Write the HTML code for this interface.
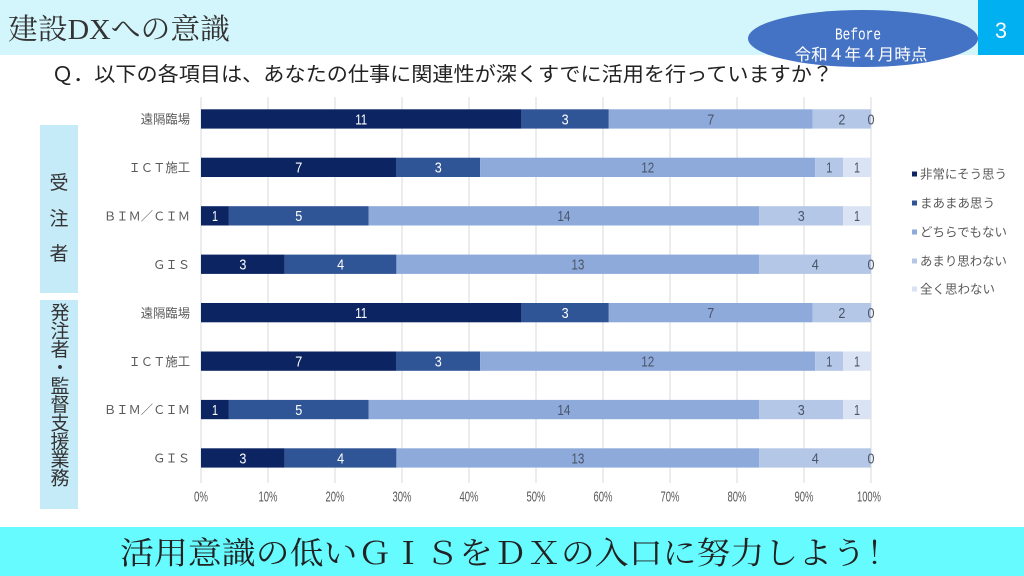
<!DOCTYPE html>
<html><head><meta charset="utf-8"><style>
html,body{margin:0;padding:0;background:#fff;}
svg{display:block;}
</style></head><body>
<svg xmlns="http://www.w3.org/2000/svg" width="1024" height="576" viewBox="0 0 1024 576">
<rect x="0" y="0" width="1024" height="576" fill="#ffffff"/>
<!-- header -->
<rect x="0" y="0" width="1024" height="55" fill="#d3f6fc"/>
<rect x="978" y="0" width="46" height="55" fill="#00b0f0"/>
<text x="1001" y="38" font-family="Liberation Sans Narrow, Liberation Sans, sans-serif" font-size="22" fill="#ffffff" text-anchor="middle" textLength="12" lengthAdjust="spacingAndGlyphs">3</text>
<text x="8" y="39" font-family="Liberation Serif, Noto Serif CJK SC, serif" font-size="29" fill="#333333" textLength="222" lengthAdjust="spacingAndGlyphs">建設DXへの意識</text>
<ellipse cx="863" cy="38.5" rx="115" ry="28.5" fill="#4472c4"/>
<text x="858" y="39.5" font-family="Liberation Mono, monospace" font-size="16.5" fill="#ffffff" text-anchor="middle" textLength="46" lengthAdjust="spacingAndGlyphs">Before</text>
<text x="861" y="60" font-family="Liberation Sans, Noto Sans CJK JP, sans-serif" font-size="16" fill="#ffffff" text-anchor="middle" textLength="133" lengthAdjust="spacingAndGlyphs">令和４年４月時点</text>
<!-- question -->
<text x="52" y="81" font-family="Liberation Sans, Noto Sans CJK JP, sans-serif" font-size="20" fill="#222222" textLength="781" lengthAdjust="spacingAndGlyphs">Ｑ．以下の各項目は、あなたの仕事に関連性が深くすでに活用を行っていますか？</text>
<!-- side boxes -->
<rect x="40" y="125" width="38" height="168" fill="#c5eaf8"/>
<rect x="40" y="300" width="38" height="209" fill="#c5eaf8"/>
<g font-family="Liberation Sans, Noto Sans CJK JP, sans-serif" font-size="19" fill="#333333" text-anchor="middle">
<text x="59" y="189">受</text>
<text x="59" y="225">注</text>
<text x="59" y="260">者</text>
<text x="60" y="319">発</text>
<text x="60" y="337.4">注</text>
<text x="60" y="355.8">者</text>
<text x="60" y="374.2">・</text>
<text x="60" y="392.6">監</text>
<text x="60" y="411">督</text>
<text x="60" y="429.4">支</text>
<text x="60" y="447.8">援</text>
<text x="60" y="466.2">業</text>
<text x="60" y="484.6">務</text>
</g>
<!-- gridlines -->
<g stroke="#d9d9d9" stroke-width="1">
<line x1="201" y1="97" x2="201" y2="483"/>
<line x1="268" y1="97" x2="268" y2="483"/>
<line x1="335" y1="97" x2="335" y2="483"/>
<line x1="402" y1="97" x2="402" y2="483"/>
<line x1="469" y1="97" x2="469" y2="483"/>
<line x1="536" y1="97" x2="536" y2="483"/>
<line x1="603" y1="97" x2="603" y2="483"/>
<line x1="670" y1="97" x2="670" y2="483"/>
<line x1="737" y1="97" x2="737" y2="483"/>
<line x1="804" y1="97" x2="804" y2="483"/>
<line x1="871" y1="97" x2="871" y2="483"/>
</g>
<!-- axis labels -->
<g font-family="Liberation Sans Narrow, Liberation Sans, sans-serif" font-size="15" fill="#595959" text-anchor="middle">
<text x="201" y="501.5" textLength="14" lengthAdjust="spacingAndGlyphs">0%</text>
<text x="268" y="501.5" textLength="19" lengthAdjust="spacingAndGlyphs">10%</text>
<text x="335" y="501.5" textLength="19" lengthAdjust="spacingAndGlyphs">20%</text>
<text x="402" y="501.5" textLength="19" lengthAdjust="spacingAndGlyphs">30%</text>
<text x="469" y="501.5" textLength="19" lengthAdjust="spacingAndGlyphs">40%</text>
<text x="536" y="501.5" textLength="19" lengthAdjust="spacingAndGlyphs">50%</text>
<text x="603" y="501.5" textLength="19" lengthAdjust="spacingAndGlyphs">60%</text>
<text x="670" y="501.5" textLength="19" lengthAdjust="spacingAndGlyphs">70%</text>
<text x="737" y="501.5" textLength="19" lengthAdjust="spacingAndGlyphs">80%</text>
<text x="804" y="501.5" textLength="19" lengthAdjust="spacingAndGlyphs">90%</text>
<text x="869" y="501.5" textLength="24" lengthAdjust="spacingAndGlyphs">100%</text>
</g>
<!-- category labels -->
<g font-family="Liberation Sans, Noto Sans CJK JP, sans-serif" font-size="12.3" fill="#595959" text-anchor="end">
<text x="190" y="123.6">遠隔臨場</text>
<text x="190" y="172.1">ＩＣＴ施工</text>
<text x="190" y="220.5">ＢＩＭ／ＣＩＭ</text>
<text x="190" y="268.9">ＧＩＳ</text>
<text x="190" y="317.4">遠隔臨場</text>
<text x="190" y="365.8">ＩＣＴ施工</text>
<text x="190" y="414.2">ＢＩＭ／ＣＩＭ</text>
<text x="190" y="462.6">ＧＩＳ</text>
</g>
<!-- bars -->
<defs>
<g id="rowA">
<rect x="201" y="0" width="320.4" height="19.3" fill="#0c2562"/>
<rect x="521.4" y="0" width="87.4" height="19.3" fill="#2f5597"/>
<rect x="608.8" y="0" width="203.9" height="19.3" fill="#8eaadb"/>
<rect x="812.7" y="0" width="58.3" height="19.3" fill="#b4c7e7"/>
<g font-family="Liberation Sans Narrow, Liberation Sans, sans-serif" font-size="15" text-anchor="middle" lengthAdjust="spacingAndGlyphs">
<text x="361.2" y="15" fill="#ffffff" textLength="12" lengthAdjust="spacingAndGlyphs">11</text>
<text x="565.1" y="15" fill="#ffffff" textLength="7" lengthAdjust="spacingAndGlyphs">3</text>
<text x="710.8" y="15" fill="#4a5568" textLength="7" lengthAdjust="spacingAndGlyphs">7</text>
<text x="841.9" y="15" fill="#4a5568" textLength="7" lengthAdjust="spacingAndGlyphs">2</text>
<text x="871" y="15" fill="#4a5568" textLength="7" lengthAdjust="spacingAndGlyphs">0</text>
</g>
</g>
<g id="rowB">
<rect x="201" y="0" width="195.4" height="19.3" fill="#0c2562"/>
<rect x="396.4" y="0" width="83.8" height="19.3" fill="#2f5597"/>
<rect x="480.2" y="0" width="335" height="19.3" fill="#8eaadb"/>
<rect x="815.2" y="0" width="27.9" height="19.3" fill="#b4c7e7"/>
<rect x="843.1" y="0" width="27.9" height="19.3" fill="#dae3f3"/>
<g font-family="Liberation Sans Narrow, Liberation Sans, sans-serif" font-size="15" text-anchor="middle">
<text x="298.7" y="15" fill="#ffffff" textLength="7" lengthAdjust="spacingAndGlyphs">7</text>
<text x="438.3" y="15" fill="#ffffff" textLength="7" lengthAdjust="spacingAndGlyphs">3</text>
<text x="647.7" y="15" fill="#4a5568" textLength="13" lengthAdjust="spacingAndGlyphs">12</text>
<text x="829.2" y="15" fill="#4a5568" textLength="6" lengthAdjust="spacingAndGlyphs">1</text>
<text x="857" y="15" fill="#4a5568" textLength="6" lengthAdjust="spacingAndGlyphs">1</text>
</g>
</g>
<g id="rowC">
<rect x="201" y="0" width="27.9" height="19.3" fill="#0c2562"/>
<rect x="228.9" y="0" width="139.6" height="19.3" fill="#2f5597"/>
<rect x="368.5" y="0" width="390.8" height="19.3" fill="#8eaadb"/>
<rect x="759.3" y="0" width="83.8" height="19.3" fill="#b4c7e7"/>
<rect x="843.1" y="0" width="27.9" height="19.3" fill="#dae3f3"/>
<g font-family="Liberation Sans Narrow, Liberation Sans, sans-serif" font-size="15" text-anchor="middle">
<text x="215" y="15" fill="#ffffff" textLength="6" lengthAdjust="spacingAndGlyphs">1</text>
<text x="298.7" y="15" fill="#ffffff" textLength="7" lengthAdjust="spacingAndGlyphs">5</text>
<text x="563.9" y="15" fill="#4a5568" textLength="13" lengthAdjust="spacingAndGlyphs">14</text>
<text x="801.2" y="15" fill="#4a5568" textLength="7" lengthAdjust="spacingAndGlyphs">3</text>
<text x="857" y="15" fill="#4a5568" textLength="6" lengthAdjust="spacingAndGlyphs">1</text>
</g>
</g>
<g id="rowD">
<rect x="201" y="0" width="83.75" height="19.3" fill="#0c2562"/>
<rect x="284.75" y="0" width="111.65" height="19.3" fill="#2f5597"/>
<rect x="396.4" y="0" width="362.9" height="19.3" fill="#8eaadb"/>
<rect x="759.3" y="0" width="111.7" height="19.3" fill="#b4c7e7"/>
<g font-family="Liberation Sans Narrow, Liberation Sans, sans-serif" font-size="15" text-anchor="middle">
<text x="242.9" y="15" fill="#ffffff" textLength="7" lengthAdjust="spacingAndGlyphs">3</text>
<text x="340.6" y="15" fill="#ffffff" textLength="7" lengthAdjust="spacingAndGlyphs">4</text>
<text x="577.9" y="15" fill="#4a5568" textLength="13" lengthAdjust="spacingAndGlyphs">13</text>
<text x="815.2" y="15" fill="#4a5568" textLength="7" lengthAdjust="spacingAndGlyphs">4</text>
<text x="871" y="15" fill="#4a5568" textLength="7" lengthAdjust="spacingAndGlyphs">0</text>
</g>
</g>
</defs>
<use href="#rowA" x="0" y="109.3"/>
<use href="#rowB" x="0" y="157.7"/>
<use href="#rowC" x="0" y="206.2"/>
<use href="#rowD" x="0" y="254.6"/>
<use href="#rowA" x="0" y="303.0"/>
<use href="#rowB" x="0" y="351.5"/>
<use href="#rowC" x="0" y="399.9"/>
<use href="#rowD" x="0" y="448.3"/>
<!-- legend -->
<rect x="912" y="171.5" width="5" height="5" fill="#0c2562"/>
<rect x="912" y="200.5" width="5" height="5" fill="#2f5597"/>
<rect x="912" y="229.5" width="5" height="5" fill="#8eaadb"/>
<rect x="912" y="258.5" width="5" height="5" fill="#b4c7e7"/>
<rect x="912" y="286.5" width="5" height="5" fill="#dae3f3"/>
<g font-family="Liberation Sans, Noto Sans CJK JP, sans-serif" font-size="12.5" fill="#595959">
<text x="920" y="178.5" textLength="87" lengthAdjust="spacingAndGlyphs">非常にそう思う</text>
<text x="920" y="207.5" textLength="75" lengthAdjust="spacingAndGlyphs">まあまあ思う</text>
<text x="920" y="236.5" textLength="87" lengthAdjust="spacingAndGlyphs">どちらでもない</text>
<text x="920" y="265.5" textLength="87" lengthAdjust="spacingAndGlyphs">あまり思わない</text>
<text x="920" y="293.5" textLength="75" lengthAdjust="spacingAndGlyphs">全く思わない</text>
</g>
<!-- footer -->
<rect x="0" y="527" width="1024" height="49" fill="#66fbff"/>
<text x="120" y="564" font-family="Liberation Serif, Noto Serif CJK SC, serif" font-size="31" fill="#222222" textLength="780" lengthAdjust="spacingAndGlyphs">活用意識の低いＧＩＳをＤＸの入口に努力しよう！</text>
</svg>
</body></html>
